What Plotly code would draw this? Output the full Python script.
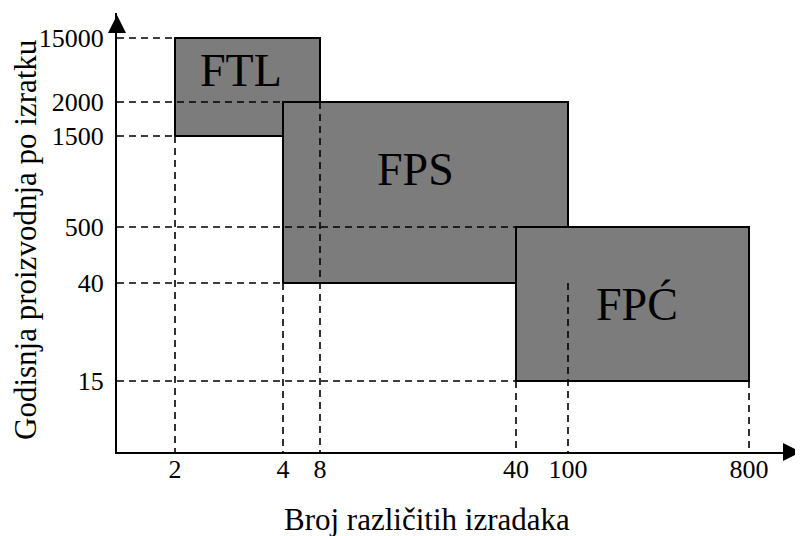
import plotly.graph_objects as go

# ---------------- data ----------------
x_tick_values = [2, 4, 8, 40, 100, 800]
y_tick_values = [15, 40, 500, 1500, 2000, 15000]

region_names = ["FTL", "FPS", "FPĆ"]
region_x_from = [2, 4, 40]
region_x_to = [8, 100, 800]
region_y_from = [1500, 40, 15]
region_y_to = [15000, 2000, 500]

# horizontal guide lines: at y value, from the y axis to x value
hguide_y = [15000, 2000, 1500, 500, 40, 15]
hguide_to_x = [2, 4, 2, 100, 4, 40]
# vertical guide lines: at x value, from y value down to the x axis
vguide_x = [2, 4, 8, 40, 100, 800]
vguide_from_y = [1500, 40, 2000, 15, 40, 15]

x_title = "Broj različitih izradaka"
y_title = "Godisnja proizvodnja po izratku"

# ---------------- layout (schematic, non-proportional axes) ----------------
PAGE_OFF = 8                     # browser body margin
W, H = 803 - PAGE_OFF, 536 - PAGE_OFF
X0, X1 = 117, 803      # x axis extent (layout units = reference pixels)
Y0, Y1 = 452, 13       # y axis extent (bottom, top)
x_slot = [175, 283, 320, 516, 568, 749]
y_slot = [381, 283, 227, 136, 102, 38]
XP = dict(zip(x_tick_values, x_slot))
YP = dict(zip(y_tick_values, y_slot))
label_pos = [(241, 70), (415, 169), (637, 304)]

SERIF = "Liberation Serif"
FILL = "#7c7c7c"

fig = go.Figure()

# rectangles
for n, xa, xb, ya, yb in zip(region_names, region_x_from, region_x_to,
                             region_y_from, region_y_to):
    xs = [XP[xa], XP[xb], XP[xb], XP[xa], XP[xa]]
    ys = [YP[ya], YP[ya], YP[yb], YP[yb], YP[ya]]
    fig.add_trace(go.Scatter(x=xs, y=ys, mode="lines", fill="toself",
                             fillcolor=FILL, line=dict(color="black", width=2),
                             hoverinfo="skip", showlegend=False, name=n))

# dashed guides
for yv, xv in zip(hguide_y, hguide_to_x):
    fig.add_trace(go.Scatter(x=[X0, XP[xv]], y=[YP[yv], YP[yv]], mode="lines",
                             line=dict(color="black", width=1.6, dash="7px,5px"),
                             hoverinfo="skip", showlegend=False))
for xv, yv in zip(vguide_x, vguide_from_y):
    fig.add_trace(go.Scatter(x=[XP[xv], XP[xv]], y=[YP[yv], Y0], mode="lines",
                             line=dict(color="black", width=1.6, dash="7px,5px"),
                             hoverinfo="skip", showlegend=False))

# region labels
for n, (px, py) in zip(region_names, label_pos):
    fig.add_annotation(x=px, y=py, text=n, showarrow=False,
                       font=dict(family=SERIF, size=46, color="black"),
                       xanchor="center", yanchor="middle")

# arrow heads at the axis ends (markers, not clipped)
fig.add_trace(go.Scatter(x=[X0], y=[Y1 + 2], mode="markers", cliponaxis=False,
                         marker=dict(symbol="arrow-up", size=18, color="black",
                                     line=dict(width=0)),
                         hoverinfo="skip", showlegend=False))
fig.add_trace(go.Scatter(x=[X1 - 2], y=[Y0], mode="markers", cliponaxis=False,
                         marker=dict(symbol="arrow-right", size=18, color="black",
                                     line=dict(width=0)),
                         hoverinfo="skip", showlegend=False))

# axis titles (positions in reference pixels converted to paper coords)
fig.add_annotation(xref="paper", yref="paper",
                   x=(427 - X0) / (X1 - X0), y=-(519 - Y0) / (Y0 - Y1),
                   text=x_title, showarrow=False,
                   font=dict(family=SERIF, size=31, color="black"),
                   xanchor="center", yanchor="middle")
fig.add_annotation(xref="paper", yref="paper",
                   x=-(X0 - 25) / (X1 - X0), y=(Y0 - 240) / (Y0 - Y1),
                   text=y_title, showarrow=False, textangle=-90,
                   font=dict(family=SERIF, size=31, color="black"),
                   xanchor="center", yanchor="middle")

fig.update_xaxes(range=[X0, X1], showgrid=False, zeroline=False,
                 showline=True, linecolor="black", linewidth=2,
                 tickvals=[XP[v] for v in x_tick_values],
                 ticktext=[str(v) for v in x_tick_values],
                 ticks="", ticklabelstandoff=-7,
                 tickfont=dict(family=SERIF, size=26, color="black"))
fig.update_yaxes(range=[Y0, Y1], showgrid=False, zeroline=False,
                 showline=True, linecolor="black", linewidth=2,
                 tickvals=[YP[v] for v in y_tick_values],
                 ticktext=[str(v) for v in y_tick_values],
                 ticks="", ticklabelstandoff=6,
                 tickfont=dict(family=SERIF, size=26, color="black"))

fig.update_layout(width=W, height=H, plot_bgcolor="white", paper_bgcolor="white",
                  margin=dict(l=X0 - PAGE_OFF, r=W - (X1 - PAGE_OFF),
                              t=Y1 - PAGE_OFF, b=H - (Y0 - PAGE_OFF)),
                  showlegend=False)

fig.write_html("out.html")
